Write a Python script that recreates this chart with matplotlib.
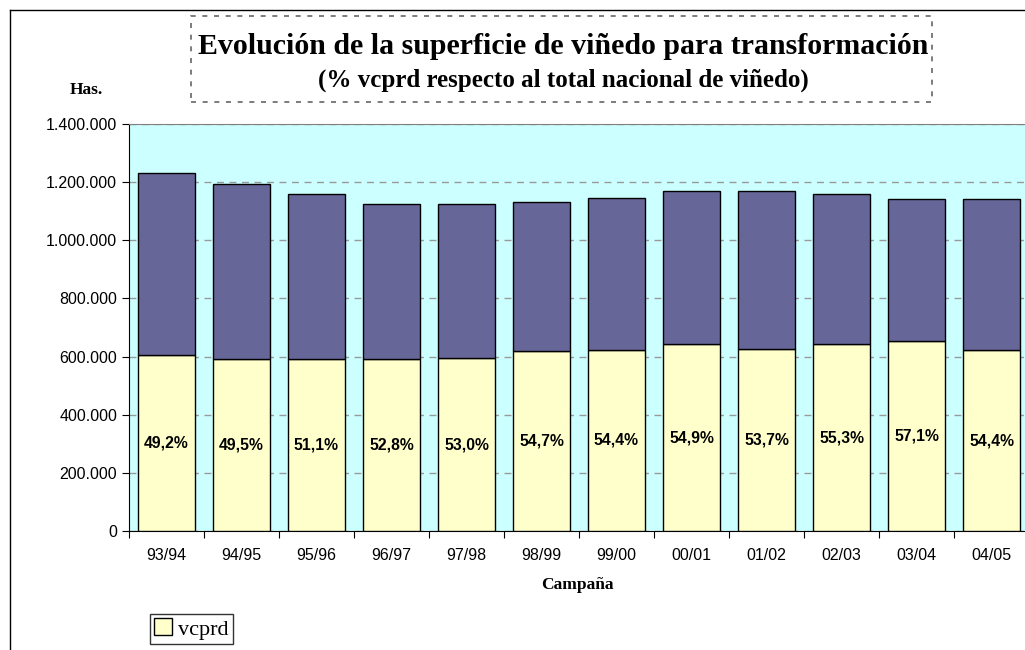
import matplotlib.pyplot as plt
from matplotlib.patches import Rectangle
from matplotlib.lines import Line2D
from matplotlib.ticker import FuncFormatter, MultipleLocator

# Data
campanas = ["93/94", "94/95", "95/96", "96/97", "97/98", "98/99",
            "99/00", "00/01", "01/02", "02/03", "03/04", "04/05"]
total = [1230000, 1193000, 1160000, 1125000, 1125000, 1131000,
         1147000, 1169000, 1168000, 1160000, 1143000, 1143000]
vcprd = [605000, 592000, 592000, 593000, 595000, 618000,
         623000, 642000, 627000, 642000, 653000, 622000]
pct = [49.2, 49.5, 51.1, 52.8, 53.0, 54.7, 54.4, 54.9, 53.7, 55.3, 57.1, 54.4]

resto = [t - v for t, v in zip(total, vcprd)]

W, H = 1025, 650
fig = plt.figure(figsize=(W / 100, H / 100), dpi=100)

# outer chart border (left and top visible)
fig.add_artist(Line2D([10 / W, 10 / W], [0, 1 - 10 / H], color="black", lw=1))
fig.add_artist(Line2D([10 / W, 1], [1 - 10 / H, 1 - 10 / H], color="black", lw=1))

# plot area
x0, x1, y0, y1 = 129, 1029, 124, 531
ax = fig.add_axes([x0 / W, 1 - y1 / H, (x1 - x0) / W, (y1 - y0) / H])
ax.set_facecolor("#CCFFFF")

x = list(range(len(campanas)))
ax.bar(x, vcprd, width=0.77, color="#FFFFCC", edgecolor="black", lw=1, zorder=3, label="vcprd")
ax.bar(x, resto, bottom=vcprd, width=0.77, color="#666699", edgecolor="black", lw=1, zorder=3)

for xi, v, p in zip(x, vcprd, pct):
    ax.text(xi, v / 2, f"{p:.1f}%".replace(".", ","), ha="center", va="center",
            fontsize=11.3, fontweight="bold", family="Liberation Sans", zorder=4)

ax.set_xlim(-0.5, len(campanas) - 0.5)
ax.set_ylim(0, 1400000)
ax.yaxis.set_major_locator(MultipleLocator(200000))
ax.yaxis.set_major_formatter(FuncFormatter(lambda v, _: f"{int(v):,}".replace(",", ".")))
ax.grid(axis="y", color="#999999", ls=(0, (5, 4)), lw=1, zorder=1)

ax.set_xticks([i - 0.5 for i in x], minor=False)
ax.set_xticklabels([])
ax.set_xticks(x, minor=True)
ax.set_xticklabels(campanas, minor=True)
ax.tick_params(axis="x", which="major", length=5, direction="out")
ax.tick_params(axis="x", which="minor", length=0, pad=12)
ax.tick_params(axis="y", length=5, direction="out")
for lab in ax.get_xticklabels(minor=True) + ax.get_yticklabels():
    lab.set_family("Liberation Sans")
    lab.set_fontsize(11.5)

ax.spines["right"].set_visible(False)
ax.spines["top"].set_color("#808080")
ax.spines["left"].set_color("black")
ax.spines["bottom"].set_color("black")

# title box
fig.add_artist(Rectangle((191 / W, 1 - 102 / H), (932 - 191) / W, (102 - 16) / H,
                         fill=False, ls=(0, (3, 4)), lw=1.2, edgecolor="#666666"))
fig.text(563 / W, 1 - 47 / H, "Evolución de la superficie de viñedo para transformación",
         ha="center", va="center", family="Liberation Serif", fontweight="bold", fontsize=21.5)
fig.text(563 / W, 1 - 80 / H, "(% vcprd respecto al total nacional de viñedo)",
         ha="center", va="center", family="Liberation Serif", fontweight="bold", fontsize=18)
fig.text(86 / W, 1 - 90 / H, "Has.", ha="center", va="center",
         family="Liberation Serif", fontweight="bold", fontsize=12.5)
fig.text(577 / W, 1 - 585 / H, "Campaña", ha="center", va="center",
         family="Liberation Serif", fontweight="bold", fontsize=12.5)

leg = fig.legend(loc="center left", bbox_to_anchor=(150 / W, 1 - 629 / H),
                 prop={"family": "Liberation Serif", "size": 16}, frameon=True,
                 fancybox=False, edgecolor="black", handlelength=0.8, handleheight=0.8,
                 handletextpad=0.25, borderpad=0.2, borderaxespad=0)
leg.get_frame().set_linewidth(1)

fig.savefig("out.png", dpi=100)
